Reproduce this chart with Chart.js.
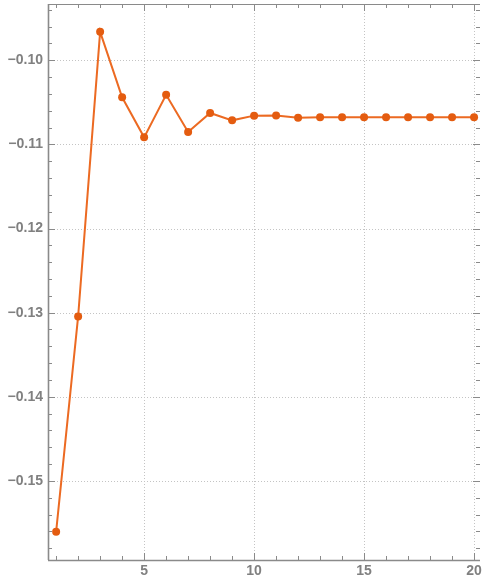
<!DOCTYPE html>
<html>
<head>
<meta charset="utf-8">
<script src="https://cdn.jsdelivr.net/npm/chart.js@4/dist/chart.umd.min.js"></script>
<style>
  html, body { margin: 0; padding: 0; background: #fff; }
  #wrap { width: 484px; height: 582px; }
</style>
</head>
<body>
<div id="wrap"><canvas id="c" width="484" height="582"></canvas></div>
<script>
// Iteration index and the value reached at each step
const steps = [1, 2, 3, 4, 5, 6, 7, 8, 9, 10, 11, 12, 13, 14, 15, 16, 17, 18, 19, 20];
const values = [-0.15603, -0.13045, -0.09662, -0.10440, -0.10916, -0.10410, -0.10852, -0.10626,
  -0.10714, -0.10658, -0.10656, -0.10682, -0.10678, -0.10678, -0.10678, -0.10678, -0.10678,
  -0.10678, -0.10678, -0.10678];

// Labelled tick positions
const xTicks = [5, 10, 15, 20];
const yTicks = [-0.15, -0.14, -0.13, -0.12, -0.11, -0.10];

const AXIS = '#8a8a8a';
const LABEL = '#808080';
const GRID = '#c4c4c4';

const fmt = v => (v < 0 ? '\u2212' : '') + Math.abs(v).toFixed(2);

// keep the plot area flush with the frame instead of reserving room for labels
const noPad = s => { s.paddingTop = 0; s.paddingBottom = 0; s.paddingLeft = 0; s.paddingRight = 0; };

// Dotted grid, frame and inward ticks drawn from the chart's scales
const framePlugin = {
  id: 'frame',
  beforeDatasetsDraw(chart) {
    const { ctx, chartArea: a, scales: { x, y } } = chart;
    ctx.save();
    ctx.strokeStyle = GRID;
    ctx.lineWidth = 1;
    ctx.setLineDash([1, 2]);
    xTicks.forEach(v => {
      const px = Math.round(x.getPixelForValue(v)) + 0.5;
      ctx.beginPath(); ctx.moveTo(px, a.top); ctx.lineTo(px, a.bottom); ctx.stroke();
    });
    yTicks.forEach(v => {
      const py = Math.round(y.getPixelForValue(v)) + 0.5;
      ctx.beginPath(); ctx.moveTo(a.left, py); ctx.lineTo(a.right, py); ctx.stroke();
    });
    ctx.setLineDash([]);

    // frame lines
    ctx.strokeStyle = AXIS;
    ctx.lineWidth = 1;
    ctx.beginPath();
    ctx.moveTo(a.left, a.top + 0.5); ctx.lineTo(a.right, a.top + 0.5);
    ctx.stroke();
    ctx.lineWidth = 1.6;
    ctx.beginPath();
    ctx.moveTo(a.left + 0.5, a.top); ctx.lineTo(a.left + 0.5, a.bottom);
    ctx.moveTo(a.left, a.bottom + 0.5); ctx.lineTo(a.right, a.bottom + 0.5);
    ctx.stroke();

    // x ticks: every integer, longer at labelled values
    ctx.lineWidth = 1;
    for (let v = 1; v <= 20; v++) {
      const px = Math.round(x.getPixelForValue(v)) + 0.5;
      const len = xTicks.includes(v) ? 7 : 4;
      ctx.beginPath();
      ctx.moveTo(px, a.bottom); ctx.lineTo(px, a.bottom - len);
      ctx.moveTo(px, a.top); ctx.lineTo(px, a.top + len);
      ctx.stroke();
    }
    // y ticks: every 0.002, longer at each 0.01
    for (let i = -79; i <= -47; i++) {
      const v = i * 0.002;
      if (v < y.min || v > y.max) continue;
      const py = Math.round(y.getPixelForValue(v)) + 0.5;
      const len = (i % 5 === 0) ? 7 : 4;
      ctx.beginPath();
      ctx.moveTo(a.left, py); ctx.lineTo(a.left + len, py);
      ctx.moveTo(a.right, py); ctx.lineTo(a.right - len, py);
      ctx.stroke();
    }
    ctx.restore();
  }
};

new Chart(document.getElementById('c'), {
  type: 'line',
  data: {
    labels: steps,
    datasets: [{
      data: steps.map((s, i) => ({ x: s, y: values[i] })),
      borderColor: '#ec6a22',
      borderWidth: 2,
      backgroundColor: '#e45c10',
      pointBackgroundColor: '#e45c10',
      pointBorderColor: '#e45c10',
      pointBorderWidth: 0,
      pointRadius: 4,
      tension: 0,
      fill: false
    }]
  },
  options: {
    responsive: false,
    animation: false,
    devicePixelRatio: 1,
    layout: { padding: { top: 4, right: 0, left: 0, bottom: 0 } },
    plugins: { legend: { display: false }, tooltip: { enabled: false } },
    scales: {
      x: {
        type: 'linear',
        min: 0.63,
        max: 20.27,
        afterBuildTicks: s => { s.ticks = xTicks.map(v => ({ value: v })); },
        afterFit: s => { s.height = 22; noPad(s); },
        grid: { display: false, drawTicks: false },
        border: { display: false },
        ticks: {
          padding: 3,
          color: LABEL,
          font: { family: 'Liberation Sans', size: 14, weight: 'bold' },
          callback: v => String(v),
          maxRotation: 0
        }
      },
      y: {
        type: 'linear',
        min: -0.15940,
        max: -0.09331,
        afterBuildTicks: s => { s.ticks = yTicks.map(v => ({ value: v })); },
        afterFit: s => { s.width = 48; noPad(s); },
        grid: { display: false, drawTicks: false },
        border: { display: false },
        ticks: {
          padding: 5,
          color: LABEL,
          font: { family: 'Liberation Sans', size: 14, weight: 'bold' },
          callback: v => fmt(v)
        }
      }
    }
  },
  plugins: [framePlugin]
});
</script>
</body>
</html>
